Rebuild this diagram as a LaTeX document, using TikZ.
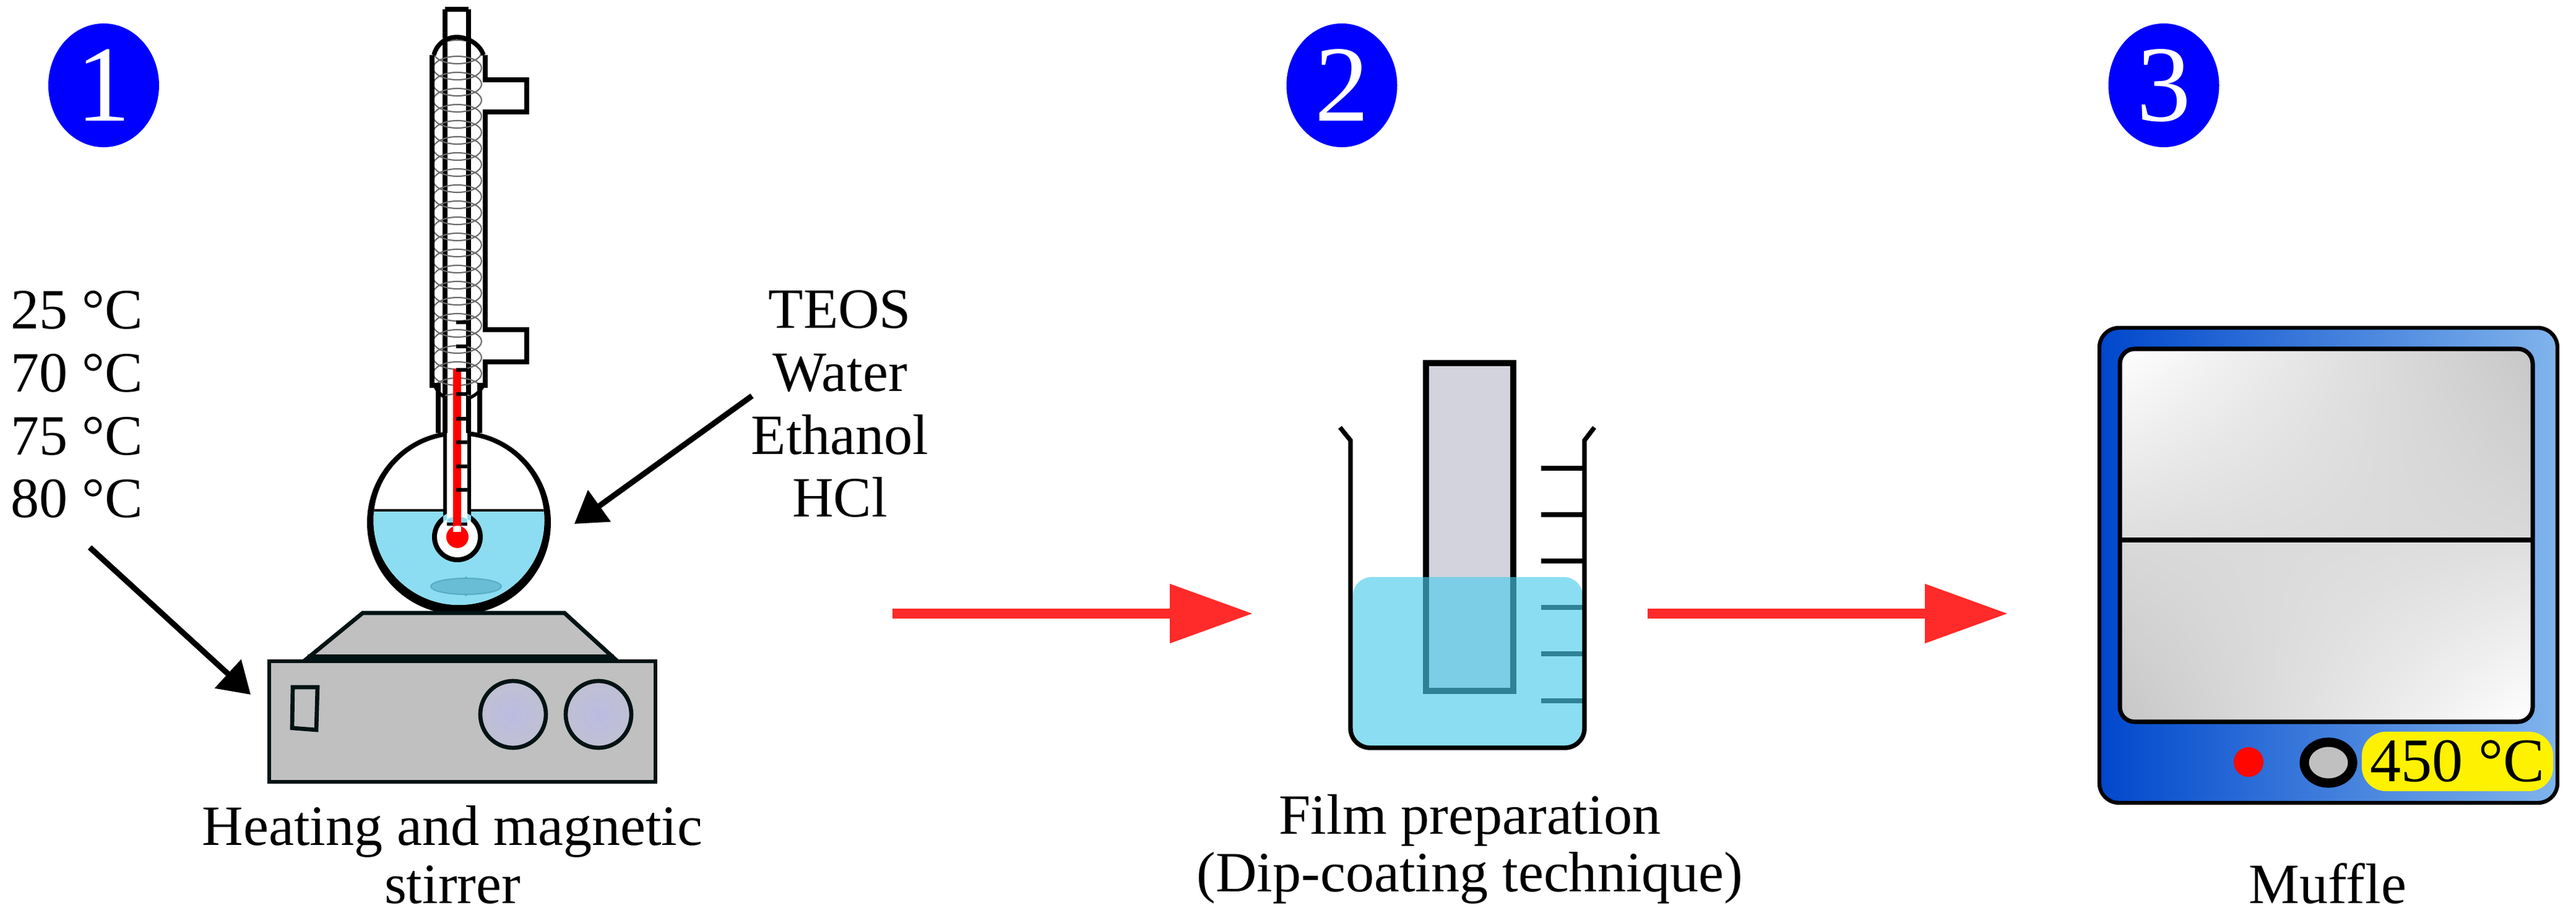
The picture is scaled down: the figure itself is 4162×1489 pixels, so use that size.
\documentclass[tikz,border=0pt]{standalone}
\usepackage{fontspec}
\setmainfont{Liberation Serif}
\usetikzlibrary{arrows.meta,shapes.geometric}

\definecolor{liquid}{HTML}{8CDDF1}
\definecolor{waterov}{RGB}{74,204,235}
\definecolor{dark}{HTML}{021313}
\definecolor{plate}{HTML}{C0C0C0}
\definecolor{arrowred}{HTML}{FF2A2A}
\definecolor{slide}{HTML}{D3D3DD}
\definecolor{knobin}{HTML}{BBBBE2}
\definecolor{knobout}{HTML}{C0C0D2}
\definecolor{barfill}{HTML}{69BDD4}
\definecolor{barline}{HTML}{58ADC6}
\definecolor{caseleft}{HTML}{0047CC}
\definecolor{casemid}{HTML}{0078DC}
\definecolor{caseright}{HTML}{80B4EC}

% window panes: bilinear grey, x y mapped to 0..1 over the central 50bp
\pgfdeclarefunctionalshading{panetop}{\pgfpointorigin}{\pgfpoint{100bp}{100bp}}{}{
  25 sub 50 div exch 25 sub 50 div 2 copy mul -0.20 mul 3 1 roll -0.02 mul exch 0.13 mul add add 0.87 add dup dup}
\pgfdeclarefunctionalshading{panebot}{\pgfpointorigin}{\pgfpoint{100bp}{100bp}}{}{
  25 sub 50 div exch 25 sub 50 div 2 copy mul -0.20 mul 3 1 roll 0.22 mul exch 0.07 mul add add 0.78 add dup dup}

\tikzset{
  lab/.style={inner sep=0pt,font=\fontsize{26.2}{29}\selectfont},
  badge/.style={ellipse,fill=blue,text=white,inner sep=0pt,minimum width=50.9pt,minimum height=56.9pt,
    font=\fontsize{49.8}{50}\selectfont},
  glass/.style={line width=2.1pt,black},
  coil/.style={line width=0.6pt,draw=black!58},
  callout/.style={line width=2.6pt,-{Triangle[length=14.2pt,width=17.4pt]}},
  flow/.style={line width=4.3pt,arrowred,-{Triangle[length=38.1pt,width=26.2pt]}},
  body/.style={line width=1.9pt,draw=dark},
  gradmark/.style={line width=2.2pt,black},
  knob/.style={body,inner color=knobin,outer color=knobout},
}

\begin{document}
\begin{tikzpicture}[x=0.01cm,y=-0.01cm]
\useasboundingbox (0,0) rectangle (4162,1489);
\fill[white] (0,0) rectangle (4162,1489);

% step badges
\node[badge] (s1) at (167.5,138) {1};
\node[badge] (s2) at (2168,138) {2};
\node[badge] (s3) at (3496,138) {3};

% condenser
\draw[glass] (719,15) -- (757,15);
\begin{scope}
  \clip (701,89) .. controls (705,72) and (720,60) .. (738,60) .. controls (756,60) and (776,72) .. (781,89)
    -- (781,623) .. controls (775,637) and (755,648) .. (738,648) .. controls (721,648) and (708,637) .. (702,623) -- cycle;
  \draw[line width=2.2pt] (719,15) -- (719,700) (757,15) -- (757,700);
  \foreach \y in {84,110,...,660} \draw[coil] (739,\y) ellipse[x radius=39,y radius=19];
\end{scope}
\draw[glass] (719,15) -- (719,62) (757,15) -- (757,62);
\draw[glass] (701,89) .. controls (705,72) and (720,60) .. (738,60) .. controls (756,60) and (776,72) .. (781,89);
\draw[line width=1.5pt] (702,623) .. controls (708,637) and (721,648) .. (738,648) .. controls (755,648) and (775,637) .. (781,623);
\draw[glass] (698,89) -- (698,623) -- (708,623) -- (708,700);
\draw[glass] (784,89) -- (784,129) -- (851,129) -- (851,181) -- (784,181) -- (784,533)
  -- (851,533) -- (851,585) -- (784,585) -- (784,623) -- (775,623) -- (775,700);

% flask
\fill[black] (741.5,845) circle[radius=148.5];
\fill[white] (741.5,841) ellipse[x radius=138,y radius=137];
\begin{scope}
  \clip (741.5,841) ellipse[x radius=138,y radius=137];
  \fill[liquid] (590,825) rectangle (895,1000);
  \draw[line width=0.9pt] (590,825) -- (895,825);
\end{scope}
\draw[line width=0.6pt,draw=barline,fill=barfill] (753,948) ellipse[x radius=57,y radius=13];
\fill[barline] (753,932) -- (758,936) -- (748,936) -- cycle (753,964) -- (758,960) -- (748,960) -- cycle;

% thermometer
\fill[black] (716,650) rectangle (761,845) (739,868) circle[radius=41];
\fill[white] (722,640) rectangle (755,850) (739,868) circle[radius=33];
\draw[glass] (719,640) -- (719,700) (757,640) -- (757,700);
\fill[red] (732,596) rectangle (745,860) (739,868) circle[radius=18];
\foreach \y in {521,560,598,637,677,715,754,792} \draw[line width=1.7pt] (737,\y) -- (755,\y);

% hot plate
\draw[body,fill=plate] (435,1069) rectangle (1059,1264);
\draw[body,fill=plate] (497,1064) -- (586,991) -- (912,991) -- (992,1064) -- cycle;
\draw[line width=3.4pt,dark] (497,1064) -- (992,1064);
\draw[body,fill=plate] (473,1111) -- (513,1111) -- (511,1180) -- (472,1177) -- cycle;
\draw[knob] (829,1155) ellipse[x radius=53,y radius=54];
\draw[knob] (967,1155) ellipse[x radius=53,y radius=54];

% beaker
\foreach \y in {757,832,907,982,1057,1133} \draw[gradmark] (2490,\y) -- (2557,\y);
\draw[line width=2.6pt,fill=slide] (2304,587) rectangle (2445,1117);
\fill[waterov,fill opacity=0.64,rounded corners=8.5pt] (2186,933) rectangle (2557,1207);
\draw[glass] (2165,691) -- (2182,712) [rounded corners=9pt] -- (2182,1209) -- (2560,1209) [sharp corners] -- (2560,712) -- (2576,691);

% muffle
\draw[line width=1.8pt,left color=caseleft,middle color=casemid,right color=caseright,rounded corners=9pt]
  (3392,530) rectangle (4132,1298);
\begin{scope}
  \clip[rounded corners=6.8pt] (3425,564) rectangle (4092,1167);
  \shade[shading=panetop] (3425,564) rectangle (4092,873);
  \shade[shading=panebot] (3425,873) rectangle (4092,1167);
\end{scope}
\draw[line width=2pt,rounded corners=6.8pt] (3425,564) rectangle (4092,1167);
\draw[line width=2pt] (3425,873) -- (4092,873);
\fill[red!95!orange] (3633,1232) circle[radius=24];
\draw[line width=4.3pt,fill=plate] (3762,1233) ellipse[x radius=39,y radius=33];
\node[fill=yellow,rounded corners=11pt,inner sep=0pt,minimum width=87.9pt,minimum height=27.3pt,
  font=\fontsize{28.5}{30}\selectfont] (temp) at (3970.5,1231) {450 °C};

% labels
\node[lab,anchor=base west,align=left] (temps) at (17,837) {25 °C\\70 °C\\75 °C\\80 °C};
\node[lab,anchor=base,align=center] (reagents) at (1357,836) {TEOS\\Water\\Ethanol\\HCl};
\node[lab,anchor=base,align=center,font=\fontsize{26.2}{26.5}\selectfont] (stirlab) at (731,1460) {Heating and magnetic\\stirrer};
\node[lab,anchor=base,align=center,font=\fontsize{26.2}{26.5}\selectfont] (dip) at (2375,1442) {Film preparation\\(Dip-coating technique)};
\node[lab,anchor=base] (muf) at (3761,1460) {Muffle};

% arrows
\coordinate (a1) at (145,885);
\coordinate (a1e) at (405,1123);
\coordinate (a2) at (1215,640);
\coordinate (a2e) at (928,847);
\coordinate (r1) at (1442,992);
\coordinate (r1e) at (2024,992);
\coordinate (r2) at (2662,992);
\coordinate (r2e) at (3244,992);
\draw[callout] (a1) -- (a1e);
\draw[callout] (a2) -- (a2e);
\draw[flow] (r1) -- (r1e);
\draw[flow] (r2) -- (r2e);
\end{tikzpicture}
\end{document}
